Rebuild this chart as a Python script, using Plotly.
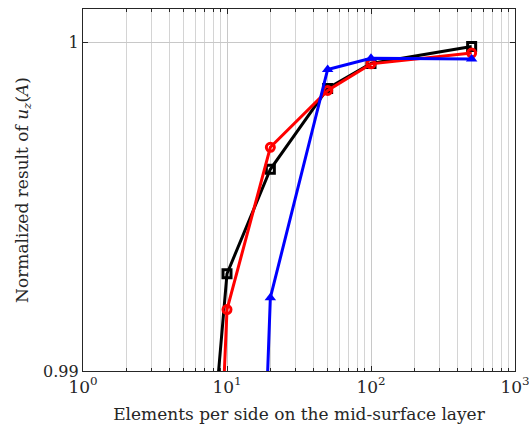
import plotly.graph_objects as go

# Mesh refinement study: elements per side vs normalized displacement
x_black = [5, 10, 20, 50, 100, 500]
y_black = [0.9777, 0.99296, 0.99614, 0.99860, 0.99936, 0.99988]

x_red = [5, 10, 20, 50, 100, 500]
y_red = [0.961, 0.99187, 0.99681, 0.99854, 0.99935, 0.99968]

x_blue = [10, 20, 50, 100, 500]
y_blue = [0.956, 0.99223, 0.99918, 0.99952, 0.99950]

x_tick_vals = [1, 10, 100, 1000]
x_tick_text = ["10<sup>0</sup>", "10<sup>1</sup>", "10<sup>2</sup>", "10<sup>3</sup>"]
x_minor_vals = [m * 10 ** e for e in range(3) for m in range(2, 10)]
y_tick_vals = [0.99, 1.0]
y_tick_text = ["0.99", "1"]

FONT = "DejaVu Serif"

fig = go.Figure()
fig.add_trace(go.Scatter(
    x=x_black, y=y_black, mode="lines+markers",
    line=dict(color="black", width=3),
    marker=dict(symbol="square-open", size=8, color="black", line=dict(width=3)),
    showlegend=False))
fig.add_trace(go.Scatter(
    x=x_red, y=y_red, mode="lines+markers",
    line=dict(color="#ff0000", width=3),
    marker=dict(symbol="circle-open", size=8, color="#ff0000", line=dict(width=3)),
    showlegend=False))
fig.add_trace(go.Scatter(
    x=x_blue, y=y_blue, mode="lines+markers",
    line=dict(color="#0000ff", width=3),
    marker=dict(symbol="triangle-up", size=10, color="#0000ff"),
    showlegend=False))

fig.update_layout(
    width=529, height=432,
    margin=dict(l=83, r=14, t=9, b=61),
    paper_bgcolor="white", plot_bgcolor="white",
    font=dict(family=FONT, size=15, color="#262626"),
    xaxis=dict(
        type="log", range=[0, 3], automargin=False, ticklabeloverflow="allow",
        tickvals=x_tick_vals, ticktext=x_tick_text,
        ticks="inside", ticklen=5, tickcolor="#262626",
        showline=True, linecolor="#262626", linewidth=1.2, mirror="ticks",
        showgrid=True, gridcolor="#c8c8c8", gridwidth=1,
        minor=dict(tickvals=x_minor_vals, ticks="inside", ticklen=3,
                   tickcolor="#262626", showgrid=True, gridcolor="#d4d4d4"),
        tickfont=dict(size=17),
        title=dict(text="Elements per side on the mid-surface layer",
                   font=dict(size=17), standoff=12),
        zeroline=False,
    ),
    yaxis=dict(
        range=[0.99, 1.00102], automargin=False, ticklabeloverflow="allow",
        tickvals=y_tick_vals, ticktext=y_tick_text,
        ticks="inside", ticklen=5, tickcolor="#262626",
        showline=True, linecolor="#262626", linewidth=1.2, mirror="ticks",
        showgrid=True, gridcolor="#c8c8c8", gridwidth=1,
        tickfont=dict(size=16),
        title=dict(text="Normalized result of <i>u</i><sub><i>z</i></sub>(<i>A</i>)",
                   font=dict(size=17), standoff=10),
        zeroline=False,
    ),
)

fig.write_html("out.html")
